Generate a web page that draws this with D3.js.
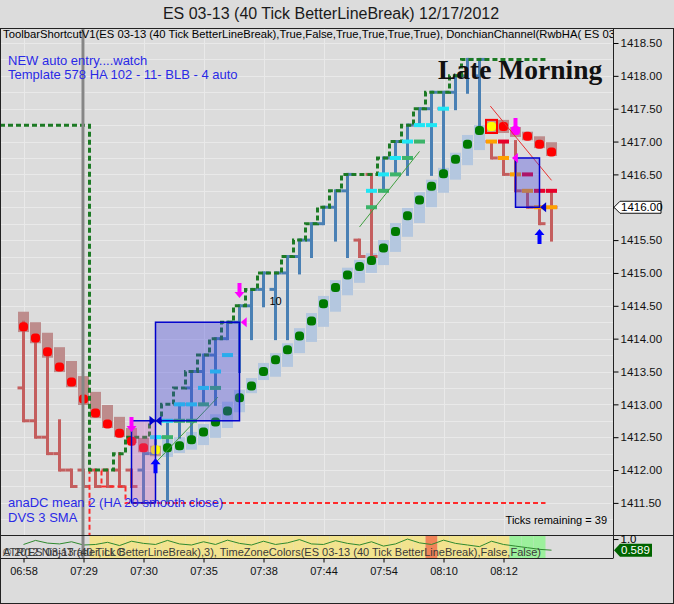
<!DOCTYPE html>
<html>
<head>
<meta charset="utf-8">
<script src="https://cdn.jsdelivr.net/npm/d3@7"></script>
<style>
  body { margin: 0; background: #dcdcdc; }
  svg { display: block; font-family: Arial, "Liberation Sans", sans-serif; }
</style>
</head>
<body>
<div id="chart"></div>
<script>
// axis labels
const timeLabels = ["06:58", "07:29", "07:30", "07:35", "07:38", "07:44", "07:54", "08:10", "08:12"];
const timeLabelBars = [0, 5, 10, 15, 20, 25, 30, 35, 40];
const priceLabels = [1411.5, 1412, 1412.5, 1413, 1413.5, 1414, 1414.5, 1415, 1415.5, 1416, 1416.5, 1417, 1417.5, 1418, 1418.5];
const sessionBreakBar = 5;

// heiken ashi boxes (top / bottom of box, dot level, state)
const haTop = [1414.41, 1414.25, 1414.09, 1413.87, 1413.66, 1413.43, 1413.19, 1412.99, 1412.81, 1412.64,
  1412.49, 1412.37, 1412.46, 1412.50, 1412.58, 1412.70, 1412.85, 1413.04, 1413.22, 1413.40,
  1413.63, 1413.78, 1413.93, 1414.16, 1414.39, 1414.65, 1414.89, 1415.08, 1415.20, 1415.30,
  1415.50, 1415.76, 1415.99, 1416.23, 1416.42, 1416.60, 1416.83, 1417.10, 1417.25, 1417.33,
  1417.33, 1417.22, 1417.15, 1417.08, 1416.99];
const haBottom = [1414.10, 1413.93, 1413.71, 1413.49, 1413.26, 1412.99, 1412.79, 1412.64, 1412.50, 1412.41,
  1412.27, 1412.21, 1412.20, 1412.26, 1412.31, 1412.38, 1412.49, 1412.64, 1412.88, 1413.17,
  1413.37, 1413.42, 1413.57, 1413.78, 1413.95, 1414.18, 1414.41, 1414.66, 1414.85, 1415.00,
  1415.12, 1415.32, 1415.55, 1415.76, 1416.00, 1416.22, 1416.42, 1416.64, 1416.87, 1417.13,
  1417.13, 1417.07, 1417.02, 1416.90, 1416.78];
const haDot = [1414.18, 1414.01, 1413.80, 1413.57, 1413.34, 1413.08, 1412.87, 1412.70, 1412.56, 1412.44,
  1412.34, 1412.31, 1412.34, 1412.37, 1412.46, 1412.58, 1412.73, 1412.90, 1413.10, 1413.28,
  1413.50, 1413.68, 1413.83, 1414.04, 1414.27, 1414.53, 1414.78, 1414.97, 1415.10, 1415.19,
  1415.38, 1415.63, 1415.87, 1416.11, 1416.32, 1416.51, 1416.73, 1416.96, 1417.17, 1417.23,
  1417.23, 1417.17, 1417.08, 1416.96, 1416.84];
const haState = ["d", "d", "d", "d", "d", "d", "d", "d", "d", "d",
  "d", "y", "u", "u", "u", "u", "u", "u", "u", "u",
  "u", "u", "u", "u", "u", "u", "u", "u", "u", "u",
  "u", "u", "u", "u", "u", "u", "u", "u", "u", "y",
  "d", "m", "d", "d", "d"];

// line break bars
const lbOpen = [1413.25, 1412.75, 1412.50, 1412.25, 1412.00, 1412.00, 1412.00, 1412.00, 1412.00, 1412.00,
  1412.00, 1412.25, 1412.50, 1412.75, 1413.25, 1413.50, 1413.75, 1414.00, 1414.25, 1414.50,
  1414.75, 1414.75, 1415.00, 1415.25, 1415.50, 1415.75, 1416.00, 1416.25, 1415.50, 1416.50,
  1416.50, 1416.75, 1417.00, 1417.25, 1417.50, 1417.50, 1417.75, 1418.00, 1418.00, 1417.00,
  1416.75, 1416.50, 1416.25, 1416.00, 1416.25];
const lbClose = [1412.75, 1412.50, 1412.25, 1412.00, 1411.75, 1411.75, 1411.75, 1411.75, 1411.75, 1411.75,
  1412.25, 1412.50, 1412.75, 1413.00, 1413.50, 1413.75, 1414.00, 1414.25, 1414.50, 1414.75,
  1415.00, 1415.00, 1415.25, 1415.50, 1415.75, 1416.00, 1416.25, 1416.50, 1415.25, 1415.25,
  1416.75, 1417.00, 1417.25, 1417.50, 1417.75, 1417.75, 1418.00, 1418.25, 1418.25, 1416.75,
  1416.50, 1416.25, 1416.00, 1415.75, 1416.00];
const lbHigh = [1414.25, 1414.00, 1413.75, 1412.75, 1412.00, 1412.00, 1412.00, 1412.00, 1412.25, 1412.00,
  1412.25, 1412.50, 1412.75, 1413.00, 1413.50, 1413.75, 1414.00, 1414.25, 1414.50, 1414.75,
  1415.00, 1415.00, 1415.25, 1415.50, 1415.75, 1416.00, 1416.25, 1416.50, 1415.50, 1416.50,
  1416.75, 1417.00, 1417.25, 1417.50, 1417.75, 1417.75, 1418.00, 1418.25, 1418.25, 1417.00,
  1417.00, 1417.00, 1416.25, 1416.00, 1416.25];
const lbLow = [1412.75, 1412.50, 1412.25, 1412.00, 1411.75, 1411.75, 1411.75, 1411.75, 1411.75, 1411.75,
  1411.50, 1412.25, 1411.50, 1412.50, 1412.50, 1413.00, 1413.00, 1414.00, 1413.50, 1414.00,
  1414.50, 1414.00, 1414.00, 1415.00, 1415.25, 1415.75, 1415.50, 1415.25, 1415.25, 1415.25,
  1416.25, 1416.50, 1416.50, 1417.25, 1416.50, 1416.50, 1417.50, 1417.75, 1417.25, 1416.75,
  1416.50, 1416.25, 1416.00, 1415.75, 1415.50];

// donchian channel
const dcUpper = [1417.25, 1417.25, 1417.25, 1417.25, 1417.25, 1417.25, 1412.00, 1412.00, 1412.25, 1412.50,
  1412.50, 1412.75, 1413.00, 1413.25, 1413.50, 1413.75, 1414.00, 1414.25, 1414.50, 1414.75,
  1415.00, 1415.00, 1415.25, 1415.50, 1415.75, 1416.00, 1416.25, 1416.50, 1416.50, 1416.50,
  1416.75, 1417.00, 1417.25, 1417.50, 1417.75, 1417.75, 1418.00, 1418.25, 1418.25, 1418.25,
  1418.25, 1418.25, 1418.25, 1418.25, null];
const dcLower = [1410.75, 1410.75, 1410.75, 1410.75, 1410.75, 1410.75, 1412.00, 1411.75, 1411.75, 1411.50,
  1411.50, 1411.50, 1411.50, 1411.50, 1411.50, 1411.50, 1411.50, 1411.50, 1411.50, 1411.50,
  1411.50, 1411.50, 1411.50, 1411.50, 1411.50, 1411.50, 1411.50, 1411.50, 1411.50, 1411.50,
  1411.50, 1411.50, 1411.50, 1411.50, 1411.50, 1411.50, 1411.50, 1411.50, 1411.50, 1411.50,
  1411.50, 1411.50, 1411.50, 1411.50, null];

// level markers [bar, price]
const cyanMarks = [[11, 1412.50], [12, 1412.75], [13, 1413.00], [14, 1413.00], [15, 1413.25], [16, 1413.50], [17, 1413.75],
  [29, 1416.25], [30, 1416.50], [31, 1416.75], [32, 1417.00], [33, 1417.25], [34, 1417.25], [35, 1417.50]];
const greenMarks = [[12, 1412.50], [13, 1412.75], [14, 1412.75], [15, 1413.00], [16, 1413.25],
  [29, 1416.00], [30, 1416.25], [31, 1416.50], [32, 1416.75], [33, 1417.00]];
const orangeMarks = [[39, 1417.00], [40, 1416.75], [41, 1416.50], [42, 1416.25], [43, 1416.00], [44, 1416.00]];
const redMarks = [[40, 1417.00], [42, 1416.50], [43, 1416.25], [44, 1416.25]];

// signals [bar, price]
const downArrows = [[9, 1412.58], [18, 1414.62], [41, 1417.13]];
const upArrows = [[11, 1412.18], [43, 1415.67]];
const magentaFlags = [[18.1, 1414.25], [40.7, 1416.75]];
const blueFlags = [[43.05, 1416.00]];
const bowTies = [[11, 1412.75]];

// zones
const zoneStart = [9, 11, 41];
const zoneEnd = [11, 18, 43];
const zoneTop = [1412.75, 1414.25, 1416.75];
const zoneBottom = [1411.50, 1412.75, 1416.00];
const zoneKind = ["pink", "blue", "blue"];

// trend lines [bar1, price1, bar2, price2, kind]
const trendLines = [[11, 1412.11, 16.2, 1413.11, "g"], [28, 1415.70, 33, 1416.85, "g"], [38.9, 1417.54, 44, 1416.41, "r"]];
const countLabel = {bar: 21, price: 1414.57, text: "10"};

// lower panel
const atr = [0.80, 0.95, 0.85, 0.82, 0.90, 0.78, 0.80, 0.88, 0.76, 0.92,
  0.84, 0.80, 0.95, 0.82, 0.78, 0.90, 0.80, 0.96, 0.84, 0.78,
  0.92, 0.80, 0.86, 0.98, 0.82, 0.80, 0.94, 0.84, 0.78, 0.90,
  0.74, 0.82, 1.00, 0.86, 0.80, 0.96, 0.84, 0.78, 0.72, 0.92,
  0.80, 0.74, 0.68, 0.62, 0.589];
const timeZone = ["", "", "", "", "", "", "y", "y", "y", "y",
  "y", "y", "y", "y", "y", "y", "y", "y", "y", "y",
  "y", "y", "y", "y", "y", "y", "y", "y", "y", "y",
  "y", "y", "y", "y", "o", "y", "y", "y", "y", "y",
  "y", "g", "g", "g", ""];

const svg = d3.select("#chart").append("svg")
  .attr("width", 674)
  .attr("height", 604);

const x = d3.scaleLinear().domain([0, 44]).range([23.5, 551.5]);
const y = d3.scaleLinear().domain([1411, 1418.5]).range([535.75, 43]);
const yAtr = d3.scaleLinear().domain([0.3, 1.15]).range([558, 535]);

svg.append("rect").attr("width", 674).attr("height", 604).attr("fill", "#dcdcdc");

const defs = svg.append("defs");
defs.append("clipPath").attr("id", "plotClip")
  .append("rect").attr("x", 1).attr("y", 29).attr("width", 612).attr("height", 506);
defs.append("clipPath").attr("id", "atrClip")
  .append("rect").attr("x", 1).attr("y", 536).attr("width", 612).attr("height", 22);

// title
svg.append("text")
  .attr("x", 331).attr("y", 19)
  .attr("text-anchor", "middle")
  .attr("font-size", 16)
  .attr("fill", "#1a1a1a")
  .text("ES 03-13 (40 Tick BetterLineBreak)  12/17/2012");

const main = svg.append("g").attr("clip-path", "url(#plotClip)");

// grid
main.selectAll(".hgrid")
  .data(d3.range(1411, 1418.8, 0.25))
  .join("line")
  .attr("x1", 0).attr("x2", 613)
  .attr("y1", d => Math.round(y(d)) + 0.5)
  .attr("y2", d => Math.round(y(d)) + 0.5)
  .attr("stroke", "#e9e9e9");
main.selectAll(".vgrid")
  .data(timeLabelBars)
  .join("line")
  .attr("x1", d => Math.round(x(d)) + 0.5)
  .attr("x2", d => Math.round(x(d)) + 0.5)
  .attr("y1", 28).attr("y2", 535)
  .attr("stroke", "#e9e9e9");

// lower panel background colours + atr
const lower = svg.append("g").attr("clip-path", "url(#atrClip)");
const tzFill = {y: "#f2e38e", o: "#f08458", g: "#9cf09c"};
lower.selectAll(".tz")
  .data(timeZone.map((k, i) => ({k, i})).filter(d => d.k))
  .join("rect")
  .attr("x", d => x(d.i) - 6)
  .attr("width", 12)
  .attr("y", 536).attr("height", 22)
  .attr("fill", d => tzFill[d.k]);
lower.append("path")
  .datum(atr)
  .attr("d", d3.line().x((d, i) => x(i)).y(d => yAtr(d)))
  .attr("fill", "none")
  .attr("stroke", "#2f8a2f")
  .attr("stroke-width", 1);

// heiken ashi boxes
const boxFill = {d: "#bd8c8c", u: "#b4c7df", y: "#c09a8a", m: "#bd8c8c"};
main.selectAll(".habox")
  .data(haState)
  .join("rect")
  .attr("x", (d, i) => x(i) - 5.5)
  .attr("width", 11)
  .attr("y", (d, i) => y(haTop[i]))
  .attr("height", (d, i) => y(haBottom[i]) - y(haTop[i]))
  .attr("fill", d => boxFill[d])
  .attr("stroke", (d, i) => i === 39 ? "#ff0000" : "none")
  .attr("stroke-width", 2);

// session break
svg.append("line")
  .attr("x1", x(sessionBreakBar) - 0.5).attr("x2", x(sessionBreakBar) - 0.5)
  .attr("y1", 28).attr("y2", 558)
  .attr("stroke", "#868686")
  .attr("stroke-width", 3);

// line break bars
const lbColor = i => lbClose[i] >= lbOpen[i] ? "#4a80b4" : "#c45e5e";
const lb = main.append("g");
lbOpen.forEach((o, i) => {
  lb.append("line")
    .attr("x1", x(i)).attr("x2", x(i))
    .attr("y1", y(lbHigh[i]) - 1.5).attr("y2", y(lbLow[i]) + 1.5)
    .attr("stroke", lbColor(i)).attr("stroke-width", 3);
  lb.append("line")
    .attr("x1", x(i) - 6).attr("x2", x(i))
    .attr("y1", y(o)).attr("y2", y(o))
    .attr("stroke", lbColor(i)).attr("stroke-width", 3);
  lb.append("line")
    .attr("x1", x(i)).attr("x2", x(i) + 6)
    .attr("y1", y(lbClose[i])).attr("y2", y(lbClose[i]))
    .attr("stroke", lbColor(i)).attr("stroke-width", 3);
});

// donchian steps
function stepPoints(vals) {
  const pts = [];
  vals.forEach((v, i) => {
    if (v == null) return;
    pts.push([i === 0 ? 0 : x(i) - 6, y(v)]);
    pts.push([x(i) + 6, y(v)]);
  });
  return pts;
}
main.append("path")
  .attr("d", d3.line()(stepPoints(dcLower)))
  .attr("fill", "none")
  .attr("stroke", "#ff2a2a")
  .attr("stroke-width", 2)
  .attr("stroke-dasharray", "5,3");
main.append("path")
  .attr("d", d3.line()(stepPoints(dcUpper)))
  .attr("fill", "none")
  .attr("stroke", "#1c7a24")
  .attr("stroke-width", 3)
  .attr("stroke-dasharray", "5,3");

// level markers
function marks(data, color) {
  main.append("g").selectAll("rect")
    .data(data)
    .join("rect")
    .attr("x", d => x(d[0]) - 5.5)
    .attr("y", d => y(d[1]) - 2)
    .attr("width", 11)
    .attr("height", 4)
    .attr("fill", color);
}
marks(greenMarks, "#3cb46a");
marks(cyanMarks, "#1ee6f5");
marks(orangeMarks, "#ffa000");
marks(redMarks, "#e8002a");

// heiken ashi dots
const dotFill = {d: "#ff0000", u: "#007a00", y: "#ffff00", m: "#ff00ff"};
main.selectAll(".hadot")
  .data(haState)
  .join("rect")
  .attr("x", (d, i) => x(i) - 4.5)
  .attr("y", (d, i) => y(haDot[i]) - 4.5)
  .attr("width", 9).attr("height", 9)
  .attr("rx", 3.5)
  .attr("fill", d => dotFill[d]);

// trend lines
main.selectAll(".trend")
  .data(trendLines)
  .join("line")
  .attr("x1", d => x(d[0])).attr("y1", d => y(d[1]))
  .attr("x2", d => x(d[2])).attr("y2", d => y(d[3]))
  .attr("stroke", d => d[4] === "g" ? "#3f9f3f" : "#e83030")
  .attr("stroke-width", 1);

// zones
main.selectAll(".zone")
  .data(zoneKind)
  .join("rect")
  .attr("x", (d, i) => x(zoneStart[i]))
  .attr("y", (d, i) => y(zoneTop[i]))
  .attr("width", (d, i) => x(zoneEnd[i]) - x(zoneStart[i]))
  .attr("height", (d, i) => y(zoneBottom[i]) - y(zoneTop[i]))
  .attr("fill", d => d === "pink" ? "rgba(200,90,200,0.3)" : "rgba(64,64,224,0.35)")
  .attr("stroke", "#0000cc")
  .attr("stroke-width", 1.5);

// arrows
main.selectAll(".down")
  .data(downArrows)
  .join("path")
  .attr("d", d => {
    const cx = x(d[0]), ty = y(d[1]);
    return `M${cx},${ty}L${cx - 5},${ty - 6}L${cx - 2},${ty - 6}L${cx - 2},${ty - 15}L${cx + 2},${ty - 15}L${cx + 2},${ty - 6}L${cx + 5},${ty - 6}Z`;
  })
  .attr("fill", "#ff00ff");
main.selectAll(".up")
  .data(upArrows)
  .join("path")
  .attr("d", d => {
    const cx = x(d[0]), ty = y(d[1]);
    return `M${cx},${ty}L${cx - 5},${ty + 6}L${cx - 2},${ty + 6}L${cx - 2},${ty + 15}L${cx + 2},${ty + 15}L${cx + 2},${ty + 6}L${cx + 5},${ty + 6}Z`;
  })
  .attr("fill", "#0000ff");
function flags(data, color) {
  main.append("g").selectAll("path")
    .data(data)
    .join("path")
    .attr("d", d => {
      const cx = x(d[0]), cy = y(d[1]);
      return `M${cx},${cy}L${cx + 6},${cy - 5}L${cx + 6},${cy + 5}Z`;
    })
    .attr("fill", color);
}
flags(magentaFlags, "#ff00ff");
flags(blueFlags, "#0000cc");
main.selectAll(".bow")
  .data(bowTies)
  .join("path")
  .attr("d", d => {
    const cx = x(d[0]), cy = y(d[1]);
    return `M${cx},${cy}L${cx - 6},${cy - 5}L${cx - 6},${cy + 5}ZM${cx},${cy}L${cx + 6},${cy - 5}L${cx + 6},${cy + 5}Z`;
  })
  .attr("fill", "#0000cc");

main.append("text")
  .attr("x", x(countLabel.bar))
  .attr("y", y(countLabel.price))
  .attr("dy", "0.35em")
  .attr("text-anchor", "middle")
  .attr("font-size", 11)
  .text(countLabel.text);

// panel texts
svg.append("text")
  .attr("x", 3).attr("y", 38)
  .attr("font-size", 11)
  .attr("textLength", 612)
  .attr("lengthAdjust", "spacingAndGlyphs")
  .attr("clip-path", "url(#plotClip)")
  .text("ToolbarShortcutV1(ES 03-13 (40 Tick BetterLineBreak),True,False,True,True,True,True), DonchianChannel(RwbHA( ES 03");

const blueText = [["NEW auto entry....watch", 65], ["Template 578 HA 102 - 11- BLB - 4 auto", 79],
  ["anaDC mean 2 (HA 20 smooth close)", 507], ["DVS 3 SMA", 522]];
svg.selectAll(".blue")
  .data(blueText)
  .join("text")
  .attr("x", 8).attr("y", d => d[1])
  .attr("font-size", 13)
  .attr("fill", "#2a2ae6")
  .text(d => d[0]);

svg.append("text")
  .attr("x", 438).attr("y", 79)
  .attr("font-family", "'Liberation Serif', 'Times New Roman', serif")
  .attr("font-weight", "bold")
  .attr("font-size", 27.5)
  .attr("fill", "#111")
  .text("Late Morning");

svg.append("text")
  .attr("x", 607).attr("y", 524)
  .attr("text-anchor", "end")
  .attr("font-size", 11)
  .text("Ticks remaining = 39");

// lower panel labels (they overlap in the original too)
svg.append("text")
  .attr("x", 3).attr("y", 556)
  .attr("font-size", 11)
  .attr("fill", "#3a3a3a")
  .text("\u00a9 2012 NinjaTrader, LLC");
svg.append("text")
  .attr("x", 3).attr("y", 556)
  .attr("font-size", 11)
  .attr("textLength", 538)
  .attr("lengthAdjust", "spacingAndGlyphs")
  .attr("fill", "#3a3a3a")
  .text("ATR(ES 03-13 (40 Tick BetterLineBreak),3), TimeZoneColors(ES 03-13 (40 Tick BetterLineBreak),False,False)");

// frame
svg.append("rect")
  .attr("x", 0.5).attr("y", 28.5)
  .attr("width", 673).attr("height", 575)
  .attr("fill", "none").attr("stroke", "#222");
svg.append("line").attr("x1", 0).attr("x2", 674).attr("y1", 535.5).attr("y2", 535.5).attr("stroke", "#222");
svg.append("line").attr("x1", 0).attr("x2", 613).attr("y1", 558.5).attr("y2", 558.5).attr("stroke", "#222");
svg.append("line").attr("x1", 613.5).attr("x2", 613.5).attr("y1", 28).attr("y2", 558.5).attr("stroke", "#222");

// right price axis
const yAxis = svg.append("g")
  .attr("transform", "translate(613.5,0)")
  .call(d3.axisRight(y).tickValues(priceLabels).tickFormat(d3.format(".2f")).tickSize(5).tickPadding(2));
yAxis.select(".domain").remove();
yAxis.selectAll("text").attr("font-size", 11.5).attr("font-family", "Arial, 'Liberation Sans', sans-serif").attr("fill", "#111");

const atrAxis = svg.append("g")
  .attr("transform", "translate(613.5,0)")
  .call(d3.axisRight(yAtr).tickValues([1]).tickSize(5).tickPadding(2));
atrAxis.select(".domain").remove();
atrAxis.selectAll("text").attr("font-size", 11.5).attr("font-family", "Arial, 'Liberation Sans', sans-serif");

// bottom time axis
const xAxis = svg.append("g")
  .attr("transform", "translate(0,558.5)")
  .call(d3.axisBottom(x).tickValues(timeLabelBars).tickFormat((d, i) => timeLabels[i]).tickSize(4).tickPadding(5));
xAxis.select(".domain").remove();
xAxis.selectAll("text").attr("font-size", 11).attr("font-family", "Arial, 'Liberation Sans', sans-serif").attr("fill", "#111");

// last price tags
const lastPrice = lbClose[lbClose.length - 1];
const py = y(lastPrice);
svg.append("path")
  .attr("d", `M614,${py}L620,${py - 6}L661,${py - 6}L661,${py + 6}L620,${py + 6}Z`)
  .attr("fill", "#fff").attr("stroke", "#111");
svg.append("text")
  .attr("x", 621).attr("y", py).attr("dy", "0.35em")
  .attr("font-size", 11.5)
  .text(d3.format(".2f")(lastPrice));

const lastAtr = atr[atr.length - 1];
const ay = yAtr(lastAtr);
svg.append("path")
  .attr("d", `M614,${ay}L620,${ay - 6.5}L652,${ay - 6.5}L652,${ay + 6.5}L620,${ay + 6.5}Z`)
  .attr("fill", "#006400");
svg.append("text")
  .attr("x", 621).attr("y", ay).attr("dy", "0.35em")
  .attr("font-size", 11.5)
  .attr("fill", "#fff")
  .text(d3.format(".3f")(lastAtr));
</script>
</body>
</html>
